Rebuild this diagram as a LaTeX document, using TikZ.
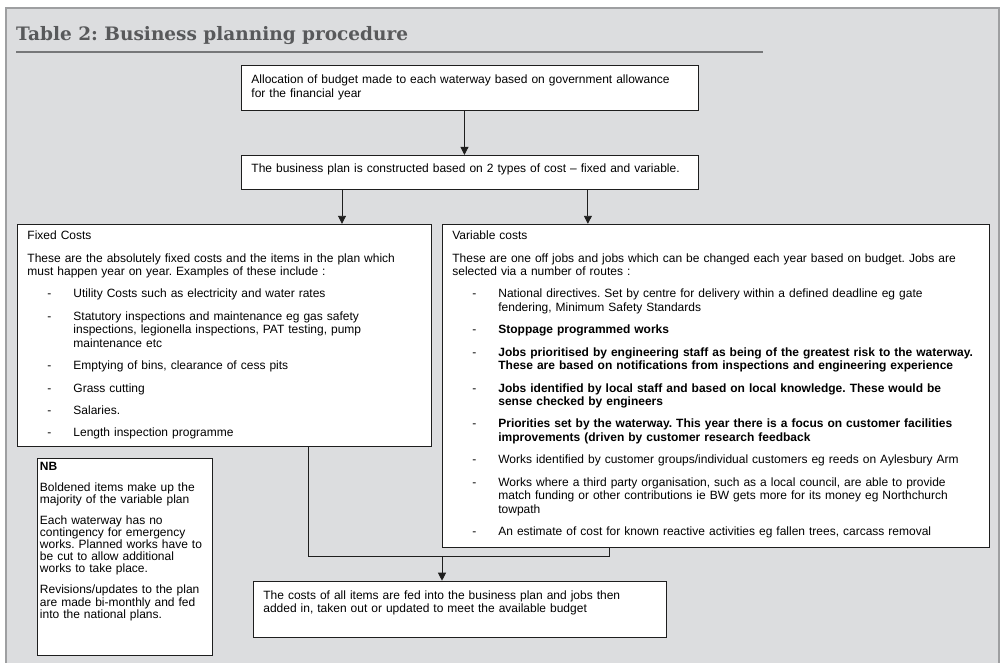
\documentclass[tikz,border=0pt]{standalone}
\usepackage{fontspec}
\setmainfont{Liberation Sans}
\newfontfamily\headfont{DejaVu Serif}
\usetikzlibrary{arrows.meta, positioning}
\definecolor{panelgray}{RGB}{220,221,223}
\definecolor{framegray}{RGB}{158,159,161}
\definecolor{titlegray}{RGB}{88,89,91}
\definecolor{rulegray}{RGB}{118,119,121}
\definecolor{boxline}{RGB}{30,30,30}
\newcommand{\costfont}{\fontsize{12}{13.6}\selectfont}
\newcommand{\dashitem}{\par\hangindent=46pt\hangafter=1\noindent\hbox to 46pt{\hskip 20pt-\hfil}}
\frenchspacing

\begin{document}
\begin{tikzpicture}[
    x=1pt, y=-1pt,
    every node/.style={font=\costfont},
    tbox/.style={rectangle, draw=boxline, line width=0.9pt, fill=white,
                 anchor=north west, align=left, inner xsep=10pt, inner ysep=6.5pt,
                 text height=9pt, execute at begin node={\setlength{\parskip}{8.7pt}\hyphenpenalty=10000}},
    link/.style={draw=boxline, line width=0.9pt},
    arrow/.style={link, -{Triangle[width=8pt, length=8pt]}},
    titlerule/.style={draw=rulegray, line width=1.8pt}
]
\useasboundingbox (0,0) rectangle (1004,662);

% Panel
\draw [framegray, fill=panelgray, line width=2pt] (6,8) rectangle (999,666);
\node (title) [anchor=base west, inner sep=0pt, text=titlegray,
    font=\headfont\bfseries\fontsize{18.5}{22}\selectfont] at (16,40) {Table 2: Business planning procedure};
\draw [titlerule] (16,52) -- (763,52);

% Boxes
\node (alloc) [tbox, text width=437pt, text height=12pt, text depth=20pt] at (241,65)
    {Allocation of budget made to each waterway based on government allowance\newline for the financial year};
\node (plan) [tbox, below=44pt of alloc.south west, anchor=north west,
    text width=437pt, text height=10.5pt, text depth=10.5pt]
    {The business plan is constructed based on 2 types of cost – fixed and variable.};
\node (fixed) [tbox, below=34pt of plan.south west, anchor=north west, xshift=-224pt,
    text width=394pt, text depth=200pt]
    {Fixed Costs\par
     These are the absolutely fixed costs and the items in the plan which\newline must happen year on year. Examples of these include :
     \dashitem Utility Costs such as electricity and water rates
     \dashitem Statutory inspections and maintenance eg gas safety\newline inspections, legionella inspections, PAT testing, pump\newline maintenance etc
     \dashitem Emptying of bins, clearance of cess pits
     \dashitem Grass cutting
     \dashitem Salaries.
     \dashitem Length inspection programme};
\node (variable) [tbox, right=10pt of fixed.north east, anchor=north west,
    text width=527pt, text depth=301pt]
    {Variable costs\par
     These are one off jobs and jobs which can be changed each year based on budget. Jobs are\newline selected via a number of routes :
     \dashitem National directives. Set by centre for delivery within a defined deadline eg gate\newline fendering, Minimum Safety Standards
     \dashitem \textbf{Stoppage programmed works}
     \dashitem \textbf{Jobs prioritised by engineering staff as being of the greatest risk to the waterway.\newline These are based on notifications from inspections and engineering experience}
     \dashitem \textbf{Jobs identified by local staff and based on local knowledge. These would be\newline sense checked by engineers}
     \dashitem \textbf{Priorities set by the waterway. This year there is a focus on customer facilities\newline improvements (driven by customer research feedback}
     \dashitem Works identified by customer groups/individual customers eg reeds on Aylesbury Arm
     \dashitem Works where a third party organisation, such as a local council, are able to provide\newline match funding or other contributions ie BW gets more for its money eg Northchurch\newline towpath
     \dashitem An estimate of cost for known reactive activities eg fallen trees, carcass removal};
\node (nb) [tbox, below=11pt of fixed.south west, anchor=north west, xshift=20pt,
    inner xsep=2.5pt, inner ysep=3pt, text width=170pt, text depth=182pt,
    font=\fontsize{12}{12.2}\selectfont]
    {\textbf{NB}\par
     Boldened items make up the\newline majority of the variable plan\par
     Each waterway has no\newline contingency for emergency\newline works. Planned works have to\newline be cut to allow additional\newline works to take place.\par
     Revisions/updates to the plan\newline are made bi-monthly and fed\newline into the national plans.};
\node (feed) [tbox, below=33pt of variable.south west, anchor=north west, xshift=-189pt,
    text width=393pt, text height=11.5pt, text depth=31.5pt,
    font=\fontsize{12}{13}\selectfont]
    {The costs of all items are fed into the business plan and jobs then\newline added in, taken out or updated to meet the available budget};

% Arrows
\coordinate (merge) at (442,556);
\draw [arrow] ([xshift=-5.5pt]alloc.south) -- ([xshift=-5.5pt]alloc.south |- plan.north);
\draw [arrow] ([xshift=101pt]plan.south west) -- ([xshift=101pt]plan.south west |- fixed.north);
\draw [arrow] ([xshift=-111pt]plan.south east) -- ([xshift=-111pt]plan.south east |- variable.north);
\draw [link] ([xshift=291pt]fixed.south west) |- ([xshift=168pt]variable.south west |- merge)
    -- ([xshift=168pt]variable.south west);
\draw [arrow] (merge) -- (merge |- feed.north);

\end{tikzpicture}
\end{document}
